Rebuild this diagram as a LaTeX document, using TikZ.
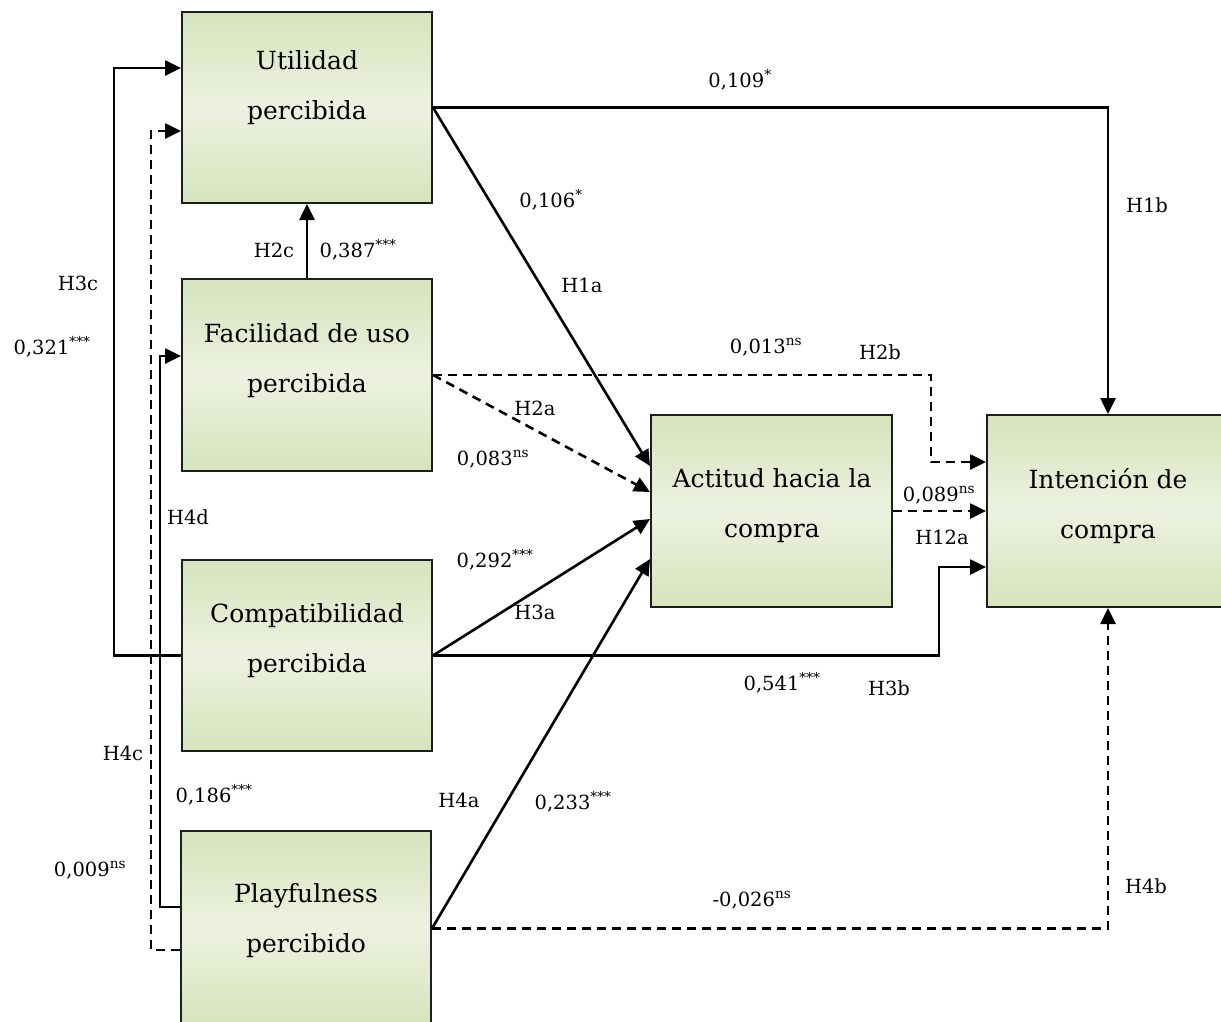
\documentclass[tikz,border=0pt]{standalone}
\usepackage{fontspec}
\setmainfont{DejaVu Serif}
\usetikzlibrary{arrows.meta,calc}
\definecolor{boxedge}{HTML}{1E1E1E}
\definecolor{greendark}{HTML}{D6E3BC}
\definecolor{greenlight}{HTML}{ECF2E0}
\begin{document}
\begin{tikzpicture}[x=1pt,y=-1pt,
  construct/.style={rectangle, draw=boxedge, line width=2pt, inner sep=0pt,
    top color=greendark, bottom color=greendark, middle color=greenlight},
  boxtext/.style={align=center, inner sep=0pt, font=\fontsize{25}{50}\selectfont},
  lbl/.style={inner sep=0pt, font=\fontsize{19.5}{23}\selectfont},
  link/.style={line width=2.6pt, -{Triangle[length=16pt,width=15pt]}},
  weak/.style={link, dash pattern=on 9pt off 6pt},
]
\useasboundingbox (0,0) rectangle (1221,1021);
\clip (0,0) rectangle (1221,1021);

% constructs
\node[construct, minimum width=250pt, minimum height=191pt] (U) at (307,107.5) {};
\node[construct, minimum width=250pt, minimum height=192pt] (F) at (307,375) {};
\node[construct, minimum width=250pt, minimum height=191pt] (C) at (307,655.5) {};
\node[construct, minimum width=250pt, minimum height=195pt] (P) at (306,928.5) {};
\node[construct, minimum width=241pt, minimum height=192pt] (A) at (771.5,511) {};
\node[construct, minimum width=242pt, minimum height=192pt] (I) at (1108,511) {};

\node[boxtext] (Ut) at (307,88) {Utilidad\\percibida};
\node[boxtext] (Ft) at (307,361) {Facilidad de uso\\percibida};
\node[boxtext] (Ct) at (307,641) {Compatibilidad\\percibida};
\node[boxtext] (Pt) at (306,921) {Playfulness\\percibido};
\node[boxtext] (At) at (772,506) {Actitud hacia la\\compra};
\node[boxtext] (It) at (1108,506) {Intención de\\compra};

% paths
\draw[link] (U.east) -| (I.north);
\fill[white] (1108.5,180) rectangle (1113,228);
\draw[link] (U.east) -- ($(A.north west)+(0,52)$);
\draw[link] (F.north) -- (U.south);
\draw[weak] (F.east) -- ($(A.north west)+(0,78)$);
\draw[weak] (F.east) -- ++(498,0) |- ($(I.north west)+(0,48)$);
\draw[link] (C.east) -- ($(A.north west)+(0,105)$);
\draw[link] (C.east) -- ++(506,0) |- ($(I.north west)+(0,153)$);
\draw[link] (C.west) -- ++(-67,0) |- ($(U.north west)+(0,57)$);
\draw[link] (P.east) -- ($(A.north west)+(0,145)$);
\draw[weak] (P.east) -| (I.south);
\draw[link] ($(P.north west)+(0,77)$) -- ++(-20,0) |- ($(F.north west)+(0,78)$);
\draw[weak] ($(P.north west)+(0,120)$) -- ++(-29,0) |- ($(U.north west)+(0,120)$);
\draw[weak] (A.east) -- (I.west);

% path labels
\node[lbl] (l109) at (740,80) {0,109\textsuperscript{*}};
\node[lbl] (lH1b) at (1147,205) {H1b};
\node[lbl] (l106) at (551,200) {0,106\textsuperscript{*}};
\node[lbl] (lH1a) at (582,285) {H1a};
\node[lbl] (lH2c) at (274,250) {H2c};
\node[lbl] (l387) at (358,250) {0,387\textsuperscript{***}};
\node[lbl] (lH3c) at (78,283) {H3c};
\node[lbl] (l321) at (52,347) {0,321\textsuperscript{***}};
\node[lbl] (l013) at (766,347) {0,013\textsuperscript{ns}};
\node[lbl] (lH2b) at (880,352) {H2b};
\node[lbl] (lH2a) at (535,408) {H2a};
\node[lbl] (l083) at (493,459) {0,083\textsuperscript{ns}};
\node[lbl] (lH4d) at (188,517) {H4d};
\node[lbl] (l292) at (495,560) {0,292\textsuperscript{***}};
\node[lbl] (l089) at (939,495) {0,089\textsuperscript{ns}};
\node[lbl] (lH12a) at (942,537) {H12a};
\node[lbl] (lH3a) at (535,612) {H3a};
\node[lbl] (l541) at (782,683) {0,541\textsuperscript{***}};
\node[lbl] (lH3b) at (889,688) {H3b};
\node[lbl] (lH4c) at (123,753) {H4c};
\node[lbl] (l186) at (214,795) {0,186\textsuperscript{***}};
\node[lbl] (lH4a) at (459,800) {H4a};
\node[lbl] (l233) at (573,802) {0,233\textsuperscript{***}};
\node[lbl] (l009) at (90,870) {0,009\textsuperscript{ns}};
\node[lbl] (lH4b) at (1146,886) {H4b};
\node[lbl] (l026) at (752,900) {-0,026\textsuperscript{ns}};
\end{tikzpicture}
\end{document}
